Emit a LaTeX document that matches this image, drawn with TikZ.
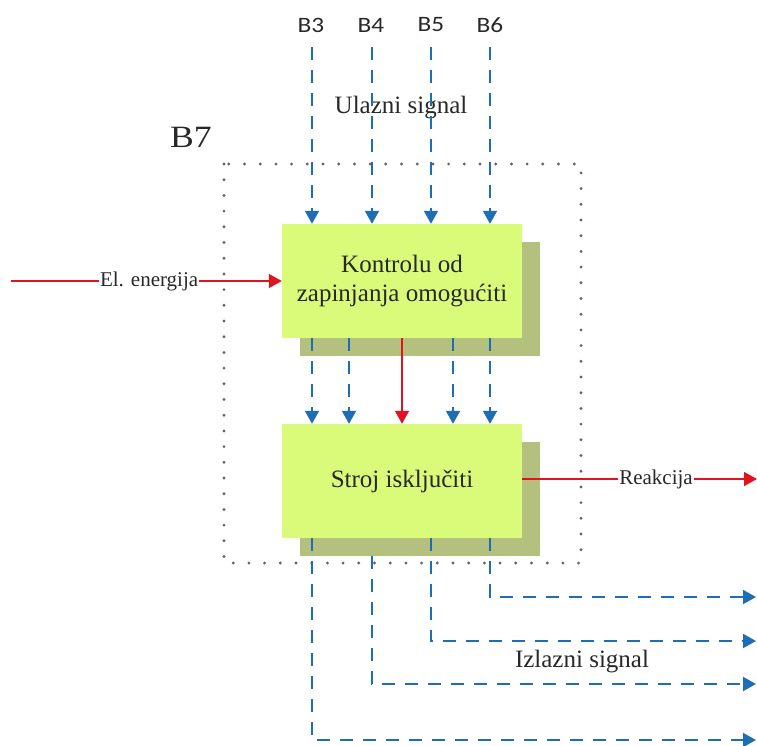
\documentclass[tikz,border=0pt]{standalone}
\usepackage{fontspec}
\setmainfont{Liberation Serif}
\newfontfamily\labfont{Carlito}
\usetikzlibrary{arrows.meta,shadows}
\definecolor{boxgreen}{RGB}{218,250,122}
\definecolor{shadowgreen}{RGB}{180,192,125}
\definecolor{sigblue}{RGB}{30,110,182}
\definecolor{enred}{RGB}{224,20,30}
\definecolor{framepurple}{RGB}{105,90,135}
\definecolor{txtgray}{RGB}{40,40,40}
\begin{document}
\begin{tikzpicture}[x=1pt,y=-1pt,
  funcbox/.style={rectangle,fill=boxgreen,minimum width=240pt,minimum height=114pt,
    align=center,font=\fontsize{25}{29}\selectfont,text=txtgray,inner sep=0pt,
    drop shadow={shadow xshift=18pt,shadow yshift=-18pt,fill=shadowgreen,opacity=1}},
  sigline/.style={sigblue,line width=2pt,dash pattern=on 13pt off 10pt,
    -{Triangle[length=13pt,width=14pt]}},
  enline/.style={enred,line width=1.4pt,-{Triangle[length=13pt,width=14pt]}},
  blab/.style={font=\labfont\fontsize{22}{25}\selectfont,text=txtgray,inner sep=1pt},
  ttext/.style={font=\fontsize{25}{29}\selectfont,text=txtgray,inner sep=1pt},
  ltext/.style={font=\fontsize{21}{24}\selectfont,text=txtgray,fill=white,inner sep=1pt}]
\useasboundingbox (0,0) rectangle (757,745);
% frame
\draw[framepurple,line width=3.2pt,line cap=round,dash pattern=on 0pt off 15.7pt]
  (224,164) rectangle (581,563);
\node[font=\fontsize{31}{34}\selectfont,text=txtgray] (b7) at (191,137) {\scalebox{1.15}[1]{B7}};
% boxes
\node[funcbox] (k1) at (402,281) {Kontrolu od\\zapinjanja omogućiti};
\node[funcbox] (k2) at (402,481) {Stroj isključiti};
% input labels
\node[blab] (b3) at (311,25) {\scalebox{1.15}[1]{B3}};
\node[blab] (b4) at (371,25) {\scalebox{1.15}[1]{B4}};
\node[blab] (b5) at (431,25) {\scalebox{1.15}[1]{B5}};
\node[blab] (b6) at (490,25) {\scalebox{1.15}[1]{B6}};
\node[ttext] (ul) at (401,108) {Ulazni signal};
\coordinate (i3) at (312,47);
\coordinate (i4) at (372,47);
\coordinate (i5) at (431,47);
\coordinate (i6) at (490,47);
\draw[sigline] (i3) -- (i3 |- k1.north);
\draw[sigline] (i4) -- (i4 |- k1.north);
\draw[sigline] (i5) -- (i5 |- k1.north);
\draw[sigline] (i6) -- (i6 |- k1.north);
% energy in
\coordinate (e0) at (11,281);
\draw[enline] (e0) -- (k1.west) node[ltext,pos=0.51] (el) {El. energija};
% between boxes
\foreach \xx in {312,349,453,490}{
  \draw[sigline] (k1.south -| {(\xx,0)}) -- (k2.north -| {(\xx,0)});
}
\draw[enline] (k1.south) -- (k2.north);
% reaction out
\coordinate (r1) at (757,479);
\draw[enline] (k2.east |- r1) -- (r1) node[ltext,pos=0.57] (re) {Reakcija};
% outputs
\coordinate (o1) at (756,597);
\coordinate (o2) at (756,641);
\coordinate (o3) at (756,684);
\coordinate (o4) at (756,740);
\draw[sigline] (k2.south -| {(490,0)}) |- (o1);
\draw[sigline] (k2.south -| {(431,0)}) |- (o2);
\draw[sigline] (372,556) |- (o3);
\draw[sigline] (k2.south -| {(312,0)}) |- (o4);
\node[ttext] (iz) at (582,662) {Izlazni signal};
\end{tikzpicture}
\end{document}
